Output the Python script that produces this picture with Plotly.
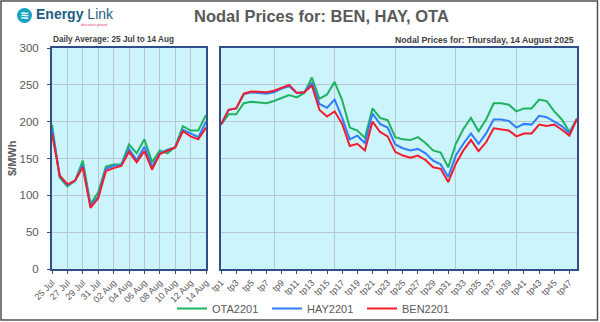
import plotly.graph_objects as go

# ---------------- data ----------------
day_labels = ["25 Jul", "26 Jul", "27 Jul", "28 Jul", "29 Jul", "30 Jul", "31 Jul",
              "01 Aug", "02 Aug", "03 Aug", "04 Aug", "05 Aug", "06 Aug", "07 Aug",
              "08 Aug", "09 Aug", "10 Aug", "11 Aug", "12 Aug", "13 Aug", "14 Aug"]
daily_ota = [196, 124, 112, 120, 147, 88, 104, 139, 142, 142, 169, 157, 176, 145,
             161, 157, 166, 194, 188, 188, 209]
daily_hay = [190, 126, 114, 120, 141, 86, 98, 136, 140, 141, 163, 148, 166, 139,
             157, 162, 165, 189, 184, 179, 200]
daily_ben = [184, 127, 115, 120, 138, 83, 96, 133, 137, 140, 159, 145, 160, 135,
             156, 161, 165, 187, 180, 176, 192]

tp_labels = ["tp%d" % k for k in range(1, 49)]
tp_ota = [196, 210, 210, 225, 227, 226, 225, 228, 232, 236, 233, 239, 260, 231, 237, 254,
          229, 192, 188, 178, 218, 205, 202, 179, 176, 175, 179, 171, 161, 158, 138, 170,
          190, 205, 187, 203, 225, 225, 223, 214, 218, 218, 230, 228, 214, 203, 186, 204]
tp_hay = [196, 216, 218, 237, 240, 239, 238, 240, 245, 248, 239, 240, 253, 224, 219, 230,
          205, 176, 181, 171, 211, 197, 192, 169, 164, 161, 163, 157, 147, 142, 125, 154,
          170, 184, 170, 184, 203, 203, 201, 192, 197, 196, 208, 206, 200, 194, 184, 204]
tp_ben = [196, 216, 218, 238, 241, 240, 240, 242, 246, 250, 239, 240, 249, 216, 207, 214,
          197, 167, 170, 161, 200, 186, 180, 159, 154, 151, 154, 148, 138, 136, 118, 143,
          161, 175, 160, 172, 191, 190, 188, 180, 184, 184, 196, 194, 196, 189, 181, 204]

series_names = ["OTA2201", "HAY2201", "BEN2201"]
series_colors = ["#1DB35F", "#2F7EFF", "#F21D2B"]

y_ticks = [0, 50, 100, 150, 200, 250, 300]

# ---------------- figure ----------------
W, H = 600, 322
def px(x):
    return x / W
def py(y):
    return 1 - y / H

fig = go.Figure()
FONT = "Liberation Sans"
GRAY = "#595959"
BG = "#CCF4FC"
BORDER = "#2F4F86"
GRID = "#B9C7CF"

daily_x = list(range(len(day_labels)))
tp_x = list(range(1, len(tp_labels) + 1))

for name, color, dv, tv in zip(series_names, series_colors,
                                [daily_ota, daily_hay, daily_ben],
                                [tp_ota, tp_hay, tp_ben]):
    fig.add_trace(go.Scatter(x=daily_x, y=dv, mode="lines", name=name,
                             line=dict(color=color, width=2), xaxis="x", yaxis="y",
                             legendgroup=name, showlegend=True))
    fig.add_trace(go.Scatter(x=tp_x, y=tv, mode="lines", name=name,
                             line=dict(color=color, width=2), xaxis="x2", yaxis="y2",
                             legendgroup=name, showlegend=False))

axis_common = dict(showline=True, mirror=True, linecolor=BORDER, linewidth=2,
                   zeroline=False, gridcolor=GRID, gridwidth=1, automargin=False)

fig.update_layout(
    width=W, height=H,
    margin=dict(l=0, r=0, t=0, b=0, autoexpand=False),
    paper_bgcolor="white", plot_bgcolor=BG,
    font=dict(family=FONT, color=GRAY),
    xaxis=dict(domain=[px(52), px(206)], range=[0, 20], tickmode="array",
               tickvals=daily_x[::2], ticktext=day_labels[::2], tickangle=-45,
               tickfont=dict(size=9, color=GRAY), ticks="outside", ticklen=3,
               tickcolor=BORDER, anchor="y", **axis_common),
    yaxis=dict(domain=[py(269), py(48)], range=[0, 300], tickvals=y_ticks,
               tickfont=dict(size=11.5, color=GRAY), ticks="outside", ticklen=3,
               tickcolor=BORDER, ticklabelstandoff=6, anchor="x", **axis_common),
    xaxis2=dict(domain=[px(221), px(577)], range=[1, 48], tickmode="array",
                tickvals=tp_x[::2], ticktext=tp_labels[::2], tickangle=-45,
                tickfont=dict(size=9, color=GRAY), ticks="outside", ticklen=3,
                tickcolor=BORDER, showgrid=False,
                minor=dict(tickmode="array", tickvals=[8, 16, 24, 32, 40],
                           showgrid=True, gridcolor=GRID, gridwidth=1, ticks=""),
                anchor="y2", **{k: v for k, v in axis_common.items()
                                if k not in ("gridcolor", "gridwidth")}),
    yaxis2=dict(domain=[py(269), py(48)], range=[0, 300], tickvals=y_ticks,
                showticklabels=False, anchor="x2", **axis_common),
    legend=dict(orientation="h", x=px(172), xanchor="left", y=py(308.5), yanchor="middle",
                font=dict(size=11, color=GRAY), bgcolor="rgba(0,0,0,0)",
                itemwidth=30, entrywidth=50, tracegroupgap=0),
    showlegend=True,
)

annotations = [
    dict(text="<b>Nodal Prices for: BEN, HAY, OTA</b>", x=px(321), y=py(16),
         font=dict(size=16.5, color=GRAY, family=FONT)),
    dict(text="<b>Daily Average: 25 Jul to 14 Aug</b>", x=px(51), y=py(39.5),
         xanchor="left", font=dict(size=8.2, color="#404040", family=FONT)),
    dict(text="<b>Nodal Prices for: Thursday, 14 August 2025</b>", x=px(576), y=py(39.5),
         xanchor="right", font=dict(size=8.7, color="#404040", family=FONT)),
    dict(text="<b>$/MWh</b>", x=px(12), y=py(158), textangle=-90,
         font=dict(size=11, color=GRAY, family=FONT)),
    dict(text="<b>Energy</b> Link", x=px(34), y=py(14.5), xanchor="left",
         font=dict(size=14, color="#1D5E82", family=FONT)),
    dict(text="decision power", x=px(110), y=py(24.5), xanchor="right",
         font=dict(size=4, color="#E0407A", family=FONT)),
    dict(text="<b>≋</b>", x=px(24.5), y=py(15.5),
         font=dict(size=11, color="white", family="DejaVu Sans")),
]
for a in annotations:
    a.setdefault("xanchor", "center")
    a.update(xref="paper", yref="paper", yanchor="middle", showarrow=False)
    fig.add_annotation(**a)

fig.add_shape(type="circle", xref="paper", yref="paper",
              x0=px(17), x1=px(32), y0=py(23), y1=py(8),
              fillcolor="#17A2C4", line=dict(width=0), layer="below")
fig.add_shape(type="rect", xref="paper", yref="paper",
              x0=px(1), x1=px(597.5), y0=py(320), y1=py(1),
              line=dict(color="#505050", width=1.5), fillcolor="rgba(0,0,0,0)")

fig.write_html("out.html")
